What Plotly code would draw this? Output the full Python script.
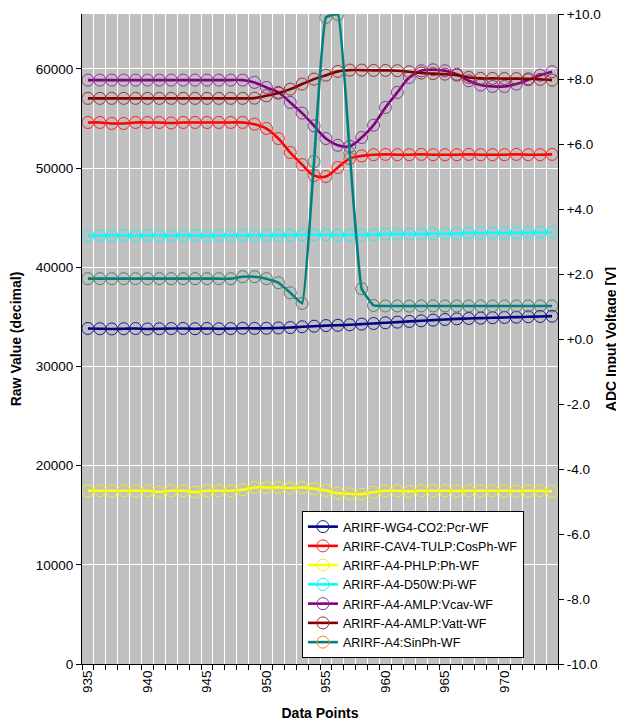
import plotly.graph_objects as go

# ---- data ----
data_points = list(range(935, 975))

pcr = [33830, 33800, 33780, 33800, 33820, 33780, 33800, 33820, 33830, 33800,
       33830, 33800, 33820, 33850, 33840, 33850, 33880, 33920, 34000, 34060,
       34120, 34150, 34200, 34270, 34330, 34400, 34470, 34540, 34600, 34670,
       34740, 34800, 34840, 34870, 34910, 34940, 34970, 35010, 35040, 35070]

cosph = [54600, 54600, 54500, 54500, 54600, 54600, 54600, 54550, 54600, 54600,
         54600, 54600, 54600, 54600, 54430, 53990, 52980, 51570, 50350, 49250,
         49150, 50060, 50960, 51230, 51350, 51380, 51350, 51350, 51380, 51350,
         51350, 51350, 51380, 51350, 51350, 51350, 51380, 51350, 51350, 51380]

ph = [17470, 17470, 17470, 17470, 17470, 17470, 17370, 17470, 17470, 17330,
      17470, 17470, 17470, 17570, 17800, 17800, 17800, 17740, 17800, 17670,
      17500, 17230, 17160, 17130, 17330, 17470, 17470, 17400, 17470, 17470,
      17470, 17440, 17470, 17470, 17470, 17470, 17440, 17470, 17470, 17400]

pi = [43200, 43180, 43200, 43200, 43180, 43200, 43200, 43180, 43200, 43200,
      43180, 43200, 43200, 43200, 43200, 43200, 43220, 43240, 43280, 43280,
      43280, 43250, 43250, 43260, 43280, 43350, 43350, 43350, 43350, 43380,
      43380, 43380, 43450, 43450, 43450, 43450, 43480, 43480, 43500, 43500]

vcav = [58870, 58870, 58870, 58870, 58870, 58870, 58870, 58870, 58870, 58870,
        58870, 58870, 58870, 58870, 58640, 58130, 57630, 56620, 55540, 54260,
        52980, 52300, 52200, 53080, 54330, 56110, 57630, 59140, 59810, 59910,
        59810, 59470, 58800, 58370, 58230, 58230, 58470, 58900, 59370, 59710]

vatt = [57030, 57030, 57030, 57030, 57030, 57030, 57030, 57030, 57030, 57030,
        57030, 57030, 57030, 57030, 57050, 57290, 57560, 57960, 58470, 58970,
        59370, 59750, 59880, 59880, 59850, 59850, 59820, 59710, 59580, 59520,
        59470, 59370, 59140, 59040, 59040, 59020, 59020, 59000, 58950, 58870]

sinph = [38850, 38850, 38850, 38850, 38850, 38850, 38850, 38850, 38850, 38850,
         38850, 38850, 38850, 39050, 39050, 38850, 38440, 37430, 36350, 50660,
         65200, 65500, 51500, 37840, 36150, 36100, 36100, 36080, 36100, 36100,
         36100, 36100, 36100, 36100, 36100, 36100, 36100, 36100, 36100, 36100]

series_names = ["ARIRF-WG4-CO2:Pcr-WF", "ARIRF-CAV4-TULP:CosPh-WF", "ARIRF-A4-PHLP:Ph-WF",
                "ARIRF-A4-D50W:Pi-WF", "ARIRF-A4-AMLP:Vcav-WF", "ARIRF-A4-AMLP:Vatt-WF",
                "ARIRF-A4:SinPh-WF"]

x_tick_vals = [935, 940, 945, 950, 955, 960, 965, 970]
y_tick_vals = [0, 10000, 20000, 30000, 40000, 50000, 60000]
y_tick_text = ["0", "10000", "20000", "30000", "40000", "50000", "60000"]
v_tick_vals = [-10, -8, -6, -4, -2, 0, 2, 4, 6, 8, 10]
v_tick_text = ["-10.0", "-8.0", "-6.0", "-4.0", "-2.0", "+0.0", "+2.0", "+4.0", "+6.0", "+8.0", "+10.0"]

# ---- styling ----
line_colors = ["#000080", "#FF0000", "#FFFF00", "#00FFFF", "#800080", "#800000", "#008080"]
marker_colors = ["#1a1a90", "#FF2020", "#F0F020", "#20F0F0", "#9030A0", "#A03030", "#4E806A"]
FONT = "Arial, Liberation Sans, sans-serif"
TICK = 13.5
TITLE = 14

fig = go.Figure()
all_series = [pcr, cosph, ph, pi, vcav, vatt, sinph]
for k, (name, vals) in enumerate(zip(series_names, all_series)):
    is_last = (k == len(all_series) - 1)
    fig.add_trace(go.Scatter(
        x=data_points, y=vals, name=name, mode="lines+markers",
        line=dict(color=line_colors[k], width=2.6, shape="spline",
                  smoothing=0.3 if is_last else 1.0),
        marker=dict(symbol="circle-open", size=12, color=marker_colors[k],
                    line=dict(width=1)),
        showlegend=not is_last,
    ))

# legend entry for the last series (orange legend marker, as in the original)
fig.add_trace(go.Scatter(
    x=[None], y=[None], name=series_names[-1], mode="lines+markers",
    line=dict(color=line_colors[-1], width=2.6),
    marker=dict(symbol="circle-open", size=12, color="#FF8020", line=dict(width=1)),
))

# secondary (voltage) axis holder
fig.add_trace(go.Scatter(x=[None], y=[None], yaxis="y2", showlegend=False,
                         hoverinfo="skip"))

boundaries = [v - 0.5 for v in data_points] + [data_points[-1] + 0.5]

fig.update_layout(
    width=616, height=715,
    margin=dict(l=74, r=66, t=6, b=59),
    paper_bgcolor="white", plot_bgcolor="#C0C0C0",
    font=dict(family=FONT, size=12, color="black"),
    xaxis=dict(
        range=[boundaries[0], boundaries[-1]], automargin=False,
        tickmode="array", tickvals=x_tick_vals, ticks="", showgrid=False,
        tickangle=-90, tickfont=dict(size=TICK), ticklabeloverflow="allow",
        showline=True, linecolor="black", linewidth=1,
        zeroline=False,
        minor=dict(tickmode="array", tickvals=boundaries, ticks="outside",
                   ticklen=5, tickcolor="black", showgrid=True,
                   gridcolor="white", gridwidth=1),
        title=dict(text="<b>Data Points</b>", font=dict(size=TITLE), standoff=16),
    ),
    yaxis=dict(
        range=[0, 65535], automargin=False,
        tickmode="array", tickvals=y_tick_vals, ticktext=y_tick_text,
        ticks="outside", ticklen=5, tickcolor="black", ticklabeloverflow="allow",
        showgrid=True, gridcolor="white", gridwidth=1,
        showline=True, linecolor="black", linewidth=1, zeroline=False,
        tickfont=dict(size=TICK),
        title=dict(text="<b>Raw Value (decimal)</b>", font=dict(size=TITLE), standoff=18),
    ),
    yaxis2=dict(
        range=[-10, 10], overlaying="y", side="right", automargin=False,
        tickmode="array", tickvals=v_tick_vals, ticktext=v_tick_text,
        ticks="outside", ticklen=5, tickcolor="black", ticklabeloverflow="allow",
        showgrid=False, zeroline=False,
        showline=True, linecolor="black", linewidth=1,
        tickfont=dict(size=TICK),
        title=dict(text="<b>ADC Input Voltage [V]</b>", font=dict(size=TITLE), standoff=6),
    ),
    legend=dict(
        x=0.462, y=0.1223, xanchor="left", yanchor="middle",
        bgcolor="white", bordercolor="black", borderwidth=1,
        font=dict(size=12.5), tracegroupgap=0, itemwidth=30,
    ),
    showlegend=True,
)

fig.write_html("out.html")
